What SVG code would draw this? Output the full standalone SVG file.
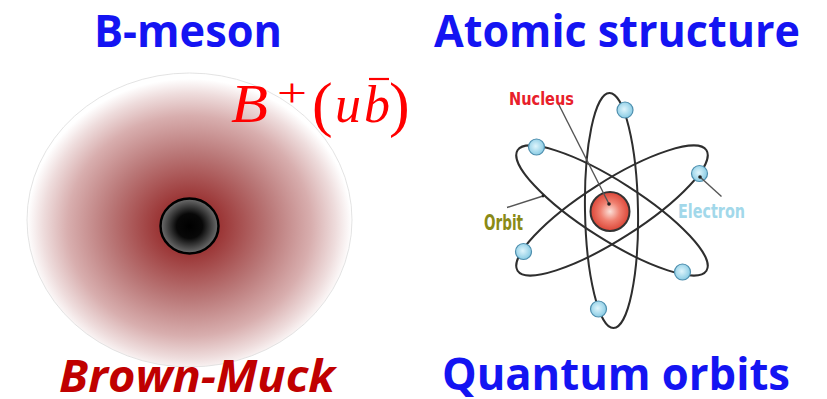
<svg xmlns="http://www.w3.org/2000/svg" width="827" height="399" viewBox="0 0 827 399">
  <style>
    .title { font-family: "Open Sans", "Liberation Sans", sans-serif; font-weight: bold; font-size: 44px; fill: #1414f2; }
    .muck { font-family: "Open Sans", "Liberation Sans", sans-serif; font-weight: bold; font-style: italic; font-size: 44px; fill: #c00000; }
    .math { font-family: "Liberation Serif", "DejaVu Serif", serif; fill: #ff0000; }
    .orbit { fill: none; stroke: #2e2e2e; stroke-width: 2; }
    .electron { fill: url(#eGrad); stroke: #4f8fae; stroke-width: 1.2; }
    .pointer { stroke: #555555; stroke-width: 1.4; fill: none; }
    .tag { font-family: "DejaVu Sans Condensed", "Liberation Sans Narrow", "Liberation Sans", sans-serif; font-weight: bold; }
  </style>
  <defs>
    <radialGradient id="cloud" cx="0.5" cy="0.52" r="0.5">
      <stop offset="0" stop-color="#8c1c1c"/>
      <stop offset="0.2" stop-color="#9c3838"/>
      <stop offset="0.5" stop-color="#ba7878"/>
      <stop offset="0.75" stop-color="#d8aeae"/>
      <stop offset="0.9" stop-color="#eedcdc"/>
      <stop offset="1" stop-color="#ffffff"/>
    </radialGradient>
    <radialGradient id="core" cx="0.5" cy="0.5" r="0.5">
      <stop offset="0" stop-color="#000000"/>
      <stop offset="0.45" stop-color="#080808"/>
      <stop offset="1" stop-color="#707070"/>
    </radialGradient>
    <radialGradient id="nGrad" cx="0.5" cy="0.5" r="0.55">
      <stop offset="0" stop-color="#fbe0d8"/>
      <stop offset="0.45" stop-color="#f08070"/>
      <stop offset="1" stop-color="#d83a2c"/>
    </radialGradient>
    <radialGradient id="eGrad" cx="0.45" cy="0.45" r="0.6">
      <stop offset="0" stop-color="#dff5fc"/>
      <stop offset="1" stop-color="#82c8e2"/>
    </radialGradient>
  </defs>

  <!-- left panel: B meson -->
  <g id="title-bmeson">
    <text class="title" x="94" y="47" textLength="188" lengthAdjust="spacingAndGlyphs">B-meson</text>
  </g>
  <g id="bmeson-cloud">
    <ellipse cx="189.5" cy="220" rx="162.5" ry="147" fill="url(#cloud)" stroke="#dcdcdc" stroke-width="0.8"/>
    <ellipse cx="189.5" cy="226" rx="29" ry="27.5" fill="url(#core)" stroke="#000000" stroke-width="2.5"/>
  </g>
  <g id="bmeson-label">
    <text class="math" x="231" y="122" font-size="54" font-style="italic" textLength="37" lengthAdjust="spacingAndGlyphs">B</text>
    <text class="math" x="277" y="106" font-size="40" textLength="30" lengthAdjust="spacingAndGlyphs">+</text>
    <text class="math" x="312" y="125" font-size="62">(</text>
    <text class="math" x="335" y="122" font-size="52" font-style="italic">u</text>
    <text class="math" x="364" y="122" font-size="52" font-style="italic">b</text>
    <line x1="369" y1="79" x2="389" y2="79" stroke="#ff0000" stroke-width="2.2"/>
    <text class="math" x="389" y="125" font-size="62">)</text>
  </g>
  <g id="title-muck">
    <text class="muck" x="59" y="392" textLength="276" lengthAdjust="spacingAndGlyphs">Brown-Muck</text>
  </g>

  <!-- right panel: atom -->
  <g id="title-atomic">
    <text class="title" x="434" y="47" textLength="366" lengthAdjust="spacingAndGlyphs">Atomic structure</text>
  </g>
  <g id="atom-orbits">
    <ellipse class="orbit" cx="611.5" cy="210.5" rx="26.5" ry="117.5" transform="rotate(-1 611.5 210.5)"/>
    <ellipse class="orbit" cx="612" cy="210.5" rx="112" ry="29" transform="rotate(32.5 612 210.5)"/>
    <ellipse class="orbit" cx="612" cy="210.5" rx="112" ry="29" transform="rotate(-32.5 612 210.5)"/>
  </g>
  <g id="atom-nucleus">
    <circle cx="610" cy="211.5" r="19.5" fill="url(#nGrad)" stroke="#333333" stroke-width="2"/>
  </g>
  <g id="atom-electrons">
    <circle class="electron" cx="625" cy="110" r="8"/>
    <circle class="electron" cx="598.5" cy="309" r="8"/>
    <circle class="electron" cx="536.5" cy="147" r="8"/>
    <circle class="electron" cx="682.5" cy="272" r="8"/>
    <circle class="electron" cx="523.5" cy="251.5" r="8"/>
    <circle class="electron" cx="699.5" cy="173.5" r="8"/>
  </g>
  <g id="connectors">
    <line class="pointer" x1="558" y1="103" x2="609" y2="204"/>
    <circle cx="609" cy="204" r="1.8" fill="#222"/>
    <line class="pointer" x1="507" y1="207.5" x2="543" y2="196"/>
    <circle cx="543" cy="196" r="1.4" fill="#222"/>
    <line class="pointer" x1="721.5" y1="196.5" x2="700" y2="177"/>
    <circle cx="700" cy="177" r="1.8" fill="#222"/>
  </g>
  <g id="label-nucleus">
    <text class="tag" x="509" y="104.5" font-size="18" fill="#e8202a" textLength="65" lengthAdjust="spacingAndGlyphs">Nucleus</text>
  </g>
  <g id="label-orbit">
    <text class="tag" x="484" y="229.5" font-size="21" fill="#8a8a16" textLength="39" lengthAdjust="spacingAndGlyphs">Orbit</text>
  </g>
  <g id="label-electron">
    <text class="tag" x="678" y="218" font-size="19" fill="#a2d8ea" textLength="67" lengthAdjust="spacingAndGlyphs">Electron</text>
  </g>
  <g id="title-quantum">
    <text class="title" x="442" y="390" textLength="348" lengthAdjust="spacingAndGlyphs">Quantum orbits</text>
  </g>
</svg>
